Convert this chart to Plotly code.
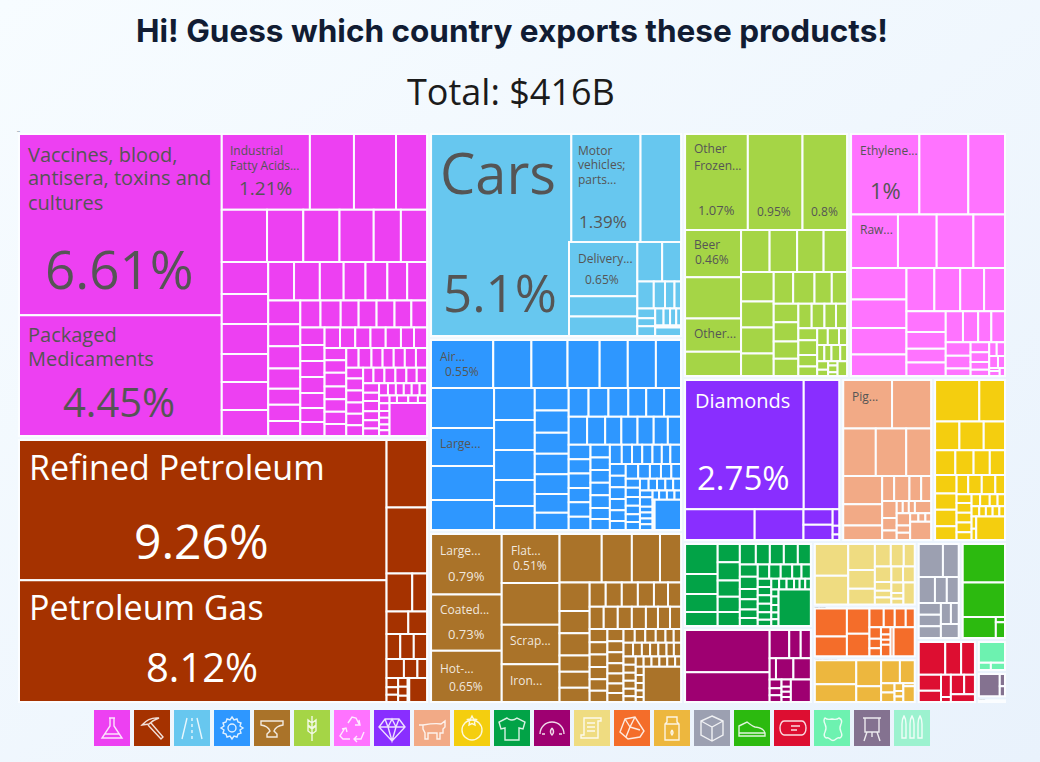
import base64
import plotly.graph_objects as go

WIDTH = 1040
HEIGHT = 762
TILE_RATIO = 1.618

sectors = ["Chemical Products", "Mineral Products", "Transportation", "Machines", "Metals",
           "Vegetable Products", "Plastics and Rubbers", "Precious Metals", "Animal Products",
           "Foodstuffs", "Textiles", "Instruments", "Paper Goods", "Stone And Glass",
           "Animal and Vegetable Bi-Products", "Miscellaneous", "Footwear and Headwear",
           "Wood Products", "Animal Hides", "Arts and Antiques", "Weapons"]
sector_colors = ["#ED40F2", "#A53200", "#67C7EF", "#2E97FF", "#AA7329", "#A5D546", "#FF73FF",
                 "#892EFF", "#F2AA86", "#F4CE0F", "#02A347", "#9E0071", "#EFDC81", "#F46D2A",
                 "#EDB73E", "#9CA0B1", "#2CBA0F", "#DD0E31", "#6DF2B0", "#847290", "#9CF2CF"]
# share of the total in percent, including the room round each group
sector_shares = [22.26, 19.35, 9.24, 8.70, 7.71, 7.21, 6.86, 4.58, 2.66, 2.14, 1.97, 1.74,
                 1.18, 0.95, 0.84, 0.76, 0.80, 0.68, 0.17, 0.14, 0.03]

# product weights inside each group
chemicals = [36360, 24240, 6600, 3300, 3150, 2325, 2340, 1872, 1872, 1768, 1404, 1352,
             1472, 1380, 1380, 1288, 1288, 1196, 988, 988, 912, 836, 836, 760, 760,
             750, 704, 704, 640, 512, 512, 480, 540, 540, 480, 480, 480, 450, 420, 420,
             384, 384, 384, 360, 336, 336, 312, 308, 308, 308, 308, 264, 264, 264, 264,
             300, 270, 270, 260, 260, 240, 250, 216, 216, 216, 216, 216, 180,
             200, 200, 190, 190, 180, 160, 170, 170, 170, 160, 160, 150, 130,
             160, 140, 130, 120, 108, 96, 96, 96, 96, 90, 80, 80, 70, 70, 60, 60, 55,
             84, 72, 68, 1221]
minerals = [51060, 44290, 2706, 2650, 962, 555, 484, 418, 340, 336, 330, 324, 252, 180,
            108, 84, 84, 84, 84, 60, 36, 425]
transport = [27900, 7490, 4387]
transport_lower = [3498, 1320, 1254, 925, 703, 418, 286, 242, 165, 165, 135,
                   165, 135, 105, 99, 77, 48, 208]
# machines are drawn in two blocks: the strip along the top and everything under it
machines_top = [2914, 1786, 1692, 1504, 1316, 1316, 1175]
machines_rest = [2480, 2356, 2108, 1860,
                 1280, 1200, 1200, 1040, 960, 748, 748, 700, 680, 660, 620, 578,
                 560, 560, 560, 504, 504, 476, 510, 500, 448, 448, 448, 392, 364,
                 308, 308, 308, 308, 308, 286, 240, 240, 240, 240, 240, 210, 210,
                 224, 192, 192, 192, 176, 160, 200, 185, 180, 180, 175, 170, 140,
                 180, 170, 160, 150, 140, 126, 130, 120, 120, 110, 110, 100,
                 96, 96, 90, 90, 84, 120, 72, 72, 72, 72, 60, 72, 70, 60, 60, 783]
metals = [4200, 3920, 3570, 2784, 2378, 2262, 2146, 2016, 1440, 1344, 1008,
          840, 660, 660, 480, 480, 420, 384, 384, 384, 384, 336, 312,
          308, 308, 308, 308, 264, 264, 242, 230, 216, 216, 216, 200, 198,
          192, 176, 176, 160, 160, 150, 144, 150, 140, 140, 130, 110, 98,
          130, 120, 112, 112, 112, 100, 98, 100, 96, 96, 96, 90, 70,
          80, 80, 80, 80, 80, 60, 64, 64, 60, 50, 40, 1295]
vegetables = [5766, 5022, 4092, 2538, 2214, 1782, 1300, 1148, 1107, 1066, 943,
              925, 814, 814, 703, 592, 651, 527, 465, 434, 456, 408, 408, 312,
              300, 270, 260, 215, 266, 209, 171, 171, 180, 130, 110, 110,
              135, 105, 91, 65, 39, 60, 35, 135]
plastics = [5293, 3792, 2844, 2438, 2014, 1908, 1643]
plastics_lower = [1674, 1512, 1404, 1134,
                  1148, 1066, 984, 861, 780, 630, 510, 510, 510, 450, 390, 405, 324, 300,
                  180, 180, 170, 140, 110, 100, 110, 100, 80, 30, 50, 40]
precious = [14859, 4445, 2077, 1457, 435, 435, 105, 56, 35]
animal = [2205, 1764, 1449, 1353, 1107, 1025, 775, 527, 279, 357, 273, 231, 231,
          170, 130, 70, 70, 70, 187, 153, 91, 91, 65, 55, 45, 357]
foodstuffs = [1763, 1025, 672, 672, 588, 480, 432, 384, 360, 384, 336, 336, 288, 216,
              252, 252, 180, 126, 140, 140, 140, 112, 98, 110, 90, 85, 75, 65,
              66, 66, 55, 55, 50, 651]
textiles = [960, 640, 576, 448, 396, 396, 352, 330, 308, 320, 280, 280, 280, 260,
            216, 216, 180, 180, 150, 140, 160, 160, 160, 130, 130, 110,
            112, 112, 112, 100, 84, 84, 80, 80, 60, 60, 60, 50, 60, 54, 48, 48, 1155]
instruments = [3362, 2378, 522, 306, 270, 126, 348, 348, 99, 77, 77, 63, 45, 45, 45, 425]
paper = [992, 896, 650, 468, 390, 336, 273, 231, 240, 135, 105, 105, 176, 176, 117, 65, 65, 231]
stone = [810, 570, 513, 459, 243, 187, 187, 153, 119, 99, 81, 63, 45, 45, 99, 77, 551]
food = [920, 680, 600, 360, 399, 315, 117, 117, 63, 45, 45, 33, 165]
misc = [713, 465, 375, 275, 275, 231, 231, 231, 189, 147, 221]
footwear = [1517, 1353, 651, 45, 135]
wood = [775, 465, 403, 315, 225, 195, 45, 231, 187, 165]
leather = [475, 77, 91]
arts = [399, 55, 45]
weapons = [1]
sector_products = [chemicals, minerals, transport, [], metals, vegetables, plastics,
                   precious, animal, foodstuffs, textiles, instruments, paper, stone, food,
                   misc, footwear, wood, leather, arts, weapons]
# cells drawn by a block of their own, the main treemap keeps their room open
held_room = {2: transport_lower, 3: machines_top + machines_rest, 6: plastics_lower}

DARK = "#555555"
LIGHT = "rgba(255,255,255,0.85)"
GAP = "#fbfdff"
CLEAR = "rgba(0,0,0,0)"

# text, x, y, size, colour, anchor
cell_labels = [
    ("Vaccines, blood,", 28, 154, 20, DARK, "left"),
    ("antisera, toxins and", 28, 178, 20, DARK, "left"),
    ("cultures", 28, 202, 20, DARK, "left"),
    ("6.61%", 119, 268, 53, DARK, "center"),
    ("Packaged", 28, 334, 20, DARK, "left"),
    ("Medicaments", 28, 358, 20, DARK, "left"),
    ("4.45%", 119, 401, 40, DARK, "center"),
    ("Industrial", 230, 150, 12, DARK, "left"),
    ("Fatty Acids...", 230, 165, 12, DARK, "left"),
    ("1.21%", 265, 188, 19, DARK, "center"),
    ("Refined Petroleum", 29, 467, 34, "white", "left"),
    ("9.26%", 201, 540, 48, "white", "center"),
    ("Petroleum Gas", 29, 607, 34, "white", "left"),
    ("8.12%", 202, 666, 40, "white", "center"),
    ("Cars", 440, 172, 56, DARK, "left"),
    ("5.1%", 500, 292, 51, DARK, "center"),
    ("Motor", 578, 150, 12, DARK, "left"),
    ("vehicles;", 578, 164, 12, DARK, "left"),
    ("parts...", 578, 179, 12, DARK, "left"),
    ("1.39%", 603, 222, 17, DARK, "center"),
    ("Delivery...", 578, 258, 12, DARK, "left"),
    ("0.65%", 602, 279, 12, DARK, "center"),
    ("Air...", 440, 356, 12, DARK, "left"),
    ("0.55%", 462, 371, 12, DARK, "center"),
    ("Large...", 440, 443, 12, DARK, "left"),
    ("Large...", 440, 550, 12, LIGHT, "left"),
    ("0.79%", 466, 576, 13, LIGHT, "center"),
    ("Coated...", 440, 609, 12, LIGHT, "left"),
    ("0.73%", 466, 634, 13, LIGHT, "center"),
    ("Hot-...", 440, 668, 12, LIGHT, "left"),
    ("0.65%", 466, 686, 12, LIGHT, "center"),
    ("Flat...", 511, 550, 12, LIGHT, "left"),
    ("0.51%", 530, 565, 12, LIGHT, "center"),
    ("Scrap...", 510, 640, 12, LIGHT, "left"),
    ("Iron...", 510, 680, 12, LIGHT, "left"),
    ("Other", 694, 149, 12, DARK, "left"),
    ("Frozen...", 694, 165, 12, DARK, "left"),
    ("1.07%", 716, 210, 13, DARK, "center"),
    ("0.95%", 774, 211, 12, DARK, "center"),
    ("0.8%", 824, 211, 12, DARK, "center"),
    ("Beer", 694, 244, 12, DARK, "left"),
    ("0.46%", 712, 259, 12, DARK, "center"),
    ("Other...", 694, 333, 12, DARK, "left"),
    ("Ethylene...", 860, 150, 12, DARK, "left"),
    ("1%", 885, 190, 22, DARK, "center"),
    ("Raw...", 860, 229, 12, DARK, "left"),
    ("Diamonds", 695, 400, 20, "white", "left"),
    ("2.75%", 743, 477, 33, "white", "center"),
    ("Pig...", 852, 396, 12, DARK, "left"),
]

# line icons on a 36x36 canvas, same order as the sectors
icon_paths = [
    "M15 8h6M16 8v8L8 28h20L20 16V8M11 24h14",
    "M8 15Q15 7 25 8Q19 10 15 14ZM17 13L29 27L27 29L14 15",
    "M13 8L8 29M23 8L28 29M18 8v3M18 14v3M18 20v3M18 26v3",
    "M18 7l2 3 3-1 1 3 3 1-1 3 3 2-3 2 1 3-3 1-1 3-3-1-2 3-2-3-3 1-1-3-3-1 1-3-3-2 3-2-1-3 3-1 1-3 3 1zM22 18a4 4 0 1 1-8 0a4 4 0 1 1 8 0z",
    "M7 11h22v4q-7 1-9 6l3 3v3H13v-3l3-3q-2-5-9-6z",
    "M18 6v25M18 13l-4-3v5l4 3M18 13l4-3v5l-4 3M18 19l-4-3v5l4 3M18 19l4-3v5l-4 3",
    "M14 13l4-6 4 1 3 6M25 10l1 5-5 0M11 18l-5 8 3 3h7M8 19l4-1 1 4M30 22l-3 7h-7M23 26l-3 3 3 3",
    "M11 9h14l6 8-13 14L5 17zM5 17h26M11 9l3 8 4 14 4-14 3-8M14 17l4-8 4 8",
    "M5 15h4q12-2 18-1l4-3v6l-2 2v4h-3v6h-3v-6H14v6h-3v-6l-2-4v-4",
    "M28 20a10 10 0 1 1-20 0a10 10 0 1 1 20 0zM18 6l1.500 3 3 .5-2 2.500.5 3-3-1.500-3 1.500.5-3-2-2.500 3-.5z",
    "M13 8l-8 4 2 7 4-1v12h14V18l4 1 2-7-8-4q-5 4-10 0z",
    "M6 24a12 12 0 0 1 24 0M18 18q3 4 0 7q-3-3 0-7M8 24h3M25 24h3",
    "M10 8h17v3h-3v17H7v-3h3zM13 13h8M13 17h8M13 21h8",
    "M11 9l10-2 9 14-4 6-12 2-8-7zM11 9l5 8-4 10M16 17l10 3M21 7l-5 10",
    "M13 7h10v5l2 2v16H11V14l2-2zM11 14h14M18 20q2 3 0 5q-2-2 0-5",
    "M18 6l11 5v14l-11 6-11-6V11zM7 11l11 6 11-6M18 17v14",
    "M5 16l8-4q5 4 8 5q9 1 10 6v3H5zM5 23h26",
    "M10 11h18a4 7 0 0 1 0 14H10a4 7 0 0 1 0-14zM10 11a4 7 0 0 0 0 14M17 16h9M17 20h6",
    "M11 8q2 2 7 1q5 1 7-1q4 2 2 6q-2 4 0 8q2 4-1 6q-2-1-4 1q-3 3-6 0q-2-2-4-1q-3-2-1-6q2-4 0-8q-2-4 0-6z",
    "M9 8h18M11 8v14h14V8M13 22l-3 9M23 22l3 9M18 22v5",
    "M8 28V14q0-5 2-8q2 3 2 8v14zM16 28V14q0-5 2-8q2 3 2 8v14zM24 28V14q0-5 2-8q2 3 2 8v14z",
]


def svg_uri(svg):
    return "data:image/svg+xml;base64," + base64.b64encode(svg.encode()).decode()


def icon_uri(path):
    return svg_uri('<svg xmlns="http://www.w3.org/2000/svg" viewBox="0 0 36 36" width="36" height="36">'
                   f'<path d="{path}" fill="none" stroke="white" stroke-opacity="0.85" stroke-width="1.4"/></svg>')


background = svg_uri('<svg xmlns="http://www.w3.org/2000/svg" width="1040" height="762">'
                     '<defs><linearGradient id="g" x1="0" y1="0" x2="1" y2="1">'
                     '<stop offset="0" stop-color="#f7fcff"/><stop offset="1" stop-color="#e9f2fc"/>'
                     '</linearGradient></defs><rect width="1040" height="762" fill="url(#g)"/></svg>')


def make_treemap(ids, parents, values, colors, widths, box, packing="squarify", ratio=TILE_RATIO):
    left, top, right, bottom = box
    return go.Treemap(
        ids=ids,
        labels=ids,
        parents=parents,
        values=values,
        branchvalues="remainder",
        sort=False,
        textinfo="none",
        hoverinfo="skip",
        root_color=CLEAR,
        pathbar_visible=False,
        tiling=dict(packing=packing, squarifyratio=ratio, pad=0),
        marker=dict(colors=colors,
                    line=dict(color=GAP, width=widths),
                    pad=dict(t=2, l=2, r=2, b=2),
                    depthfade=False),
        domain=dict(x=[left / WIDTH, right / WIDTH], y=[1 - bottom / HEIGHT, 1 - top / HEIGHT]),
    )


def block(name, sector, weights, box, packing="squarify", ratio=TILE_RATIO):
    ids = [name] + [f"{name} {j}" for j in range(len(weights))]
    parents = [""] + [name] * len(weights)
    colors = [CLEAR] + [sector_colors[sector]] * len(weights)
    widths = [0] + [2] * len(weights)
    return make_treemap(ids, parents, [0] + weights, colors, widths, box, packing, ratio)


# two level hierarchy for the main treemap
ids = ["root"]
parents = [""]
values = [0]
colors = [CLEAR]
line_widths = [0]
for i, name in enumerate(sectors):
    ids.append(name)
    parents.append("root")
    values.append(0)
    colors.append(CLEAR)
    line_widths.append(0)
    products = sector_products[i]
    room = sum(held_room.get(i, []))
    total = sum(products) + room
    for j, weight in enumerate(products):
        ids.append(f"{name} {j}")
        parents.append(name)
        values.append(sector_shares[i] * weight / total)
        colors.append(sector_colors[i])
        line_widths.append(2)
    if room:
        ids.append(f"{name} room")
        parents.append(name)
        values.append(sector_shares[i] * room / total)
        colors.append(CLEAR)
        line_widths.append(0)

treemap = make_treemap(ids, parents, values, colors, line_widths, (15, 130, 1009, 706))
extra_blocks = [
    block("Transport lower", 2, transport_lower, (567, 240, 683, 338), ratio=2.6),
    block("Machines top", 3, machines_top, (429, 338, 683, 390), packing="dice"),
    block("Machines rest", 3, machines_rest, (429, 386, 683, 532)),
    block("Plastics lower", 6, plastics_lower, (849, 266, 1007, 378), ratio=2.2),
]

# icon legend under the treemap
legend_x = list(range(len(sectors)))
legend = go.Scatter(
    x=legend_x,
    y=[0] * len(sectors),
    mode="markers",
    marker=dict(symbol="square", size=36, color=sector_colors, line=dict(width=0)),
    hoverinfo="skip",
    showlegend=False,
)

fig = go.Figure(data=[treemap] + extra_blocks + [legend])

images = [dict(source=background, xref="paper", yref="paper", x=0, y=1, sizex=1, sizey=1,
               xanchor="left", yanchor="top", sizing="stretch", layer="below")]
for i, path in enumerate(icon_paths):
    images.append(dict(source=icon_uri(path), xref="x", yref="y", x=i, y=0, sizex=0.9, sizey=2,
                       xanchor="center", yanchor="middle", sizing="contain", layer="above"))

annotations = [dict(text="Total: $416B", x=511 / WIDTH, y=1 - 92 / HEIGHT, xref="paper", yref="paper",
                    xanchor="center", yanchor="middle", showarrow=False, borderpad=0,
                    font=dict(family="Open Sans", size=36, color="#1b1b1b"))]
for text, x, y, size, color, anchor in cell_labels:
    annotations.append(dict(text=text, x=x / WIDTH, y=1 - y / HEIGHT, xref="paper", yref="paper",
                            xanchor=anchor, yanchor="middle", showarrow=False, borderpad=0, borderwidth=0,
                            font=dict(family="Open Sans", size=size, color=color)))

fig.update_layout(
    width=WIDTH,
    height=HEIGHT,
    margin=dict(l=0, r=0, t=0, b=0),
    paper_bgcolor="#f1f8fe",
    showlegend=False,
    title=dict(text="<b>Hi! Guess which country exports these products!</b>",
               x=512 / WIDTH, y=1 - 31 / HEIGHT, xanchor="center", yanchor="middle",
               font=dict(family="Inter", size=31.5, color="#111c33")),
    xaxis=dict(visible=False, range=[-2.8, 23.2], domain=[0, 1], fixedrange=True),
    yaxis=dict(visible=False, range=[-1, 1], domain=[1 - 746 / HEIGHT, 1 - 710 / HEIGHT], fixedrange=True),
    images=images,
    annotations=annotations,
)

fig.write_html("out.html", config=dict(displayModeBar=False), post_script="document.body.style.margin='0';")
